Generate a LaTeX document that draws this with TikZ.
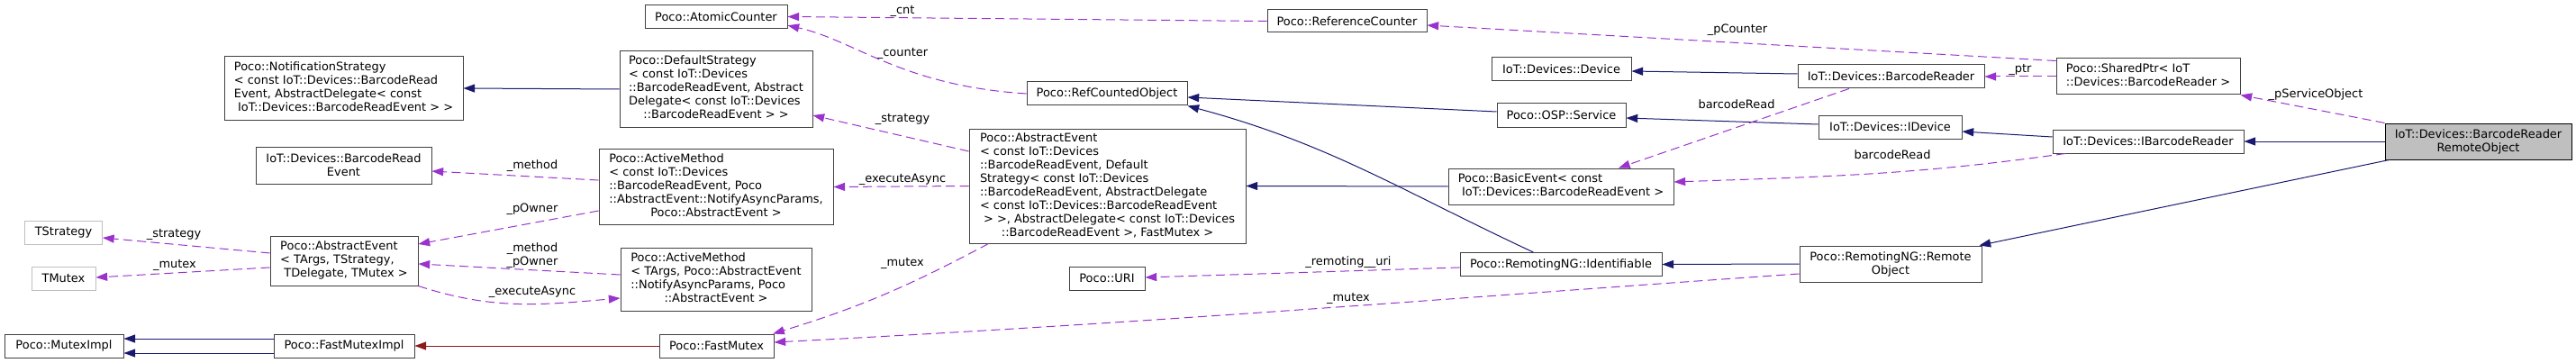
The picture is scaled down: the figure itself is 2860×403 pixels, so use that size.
\documentclass[tikz,border=0pt]{standalone}
\usepackage{fontspec}
\setmainfont{DejaVu Sans}
\usepackage{tikz}
\usetikzlibrary{arrows.meta}
\definecolor{edgeBlue}{RGB}{25,25,112}
\definecolor{edgePurple}{RGB}{154,50,205}
\definecolor{edgeRed}{RGB}{139,26,26}
\definecolor{boxGray}{RGB}{64,64,64}
\definecolor{tplGray}{RGB}{191,191,191}
% left aligned lines, last line centred
\newcommand{\cltext}[2]{\begin{tabular}{@{}l@{}}#1\\\multicolumn{1}{@{}c@{}}{#2}\end{tabular}}

\begin{document}
\begin{tikzpicture}[
  x=0.75pt, y=-0.75pt,
  font=\fontsize{9.7}{11.25}\selectfont,
  cls/.style={draw=boxGray, line width=0.75pt, fill=white, inner sep=1pt, align=center},
  tplcls/.style={cls, draw=tplGray},
  mainbox/.style={cls, draw=black, fill=tplGray},
  sz/.style 2 args={minimum width=#1*0.75pt, minimum height=#2*0.75pt},
  lbl/.style={inner sep=0pt, text height=7pt, text depth=2pt},
  inh/.style={-{Triangle[length=9.5pt,width=6.8pt]}, line width=0.75pt, edgeBlue},
  usedby/.style={inh, edgePurple, dash pattern=on 7.5pt off 4pt},
  inst/.style={inh, edgeRed}
]
\useasboundingbox (0,0) rectangle (2860,403);

% column 0
\node[tplcls, sz={86}{26}] (tstrat) at (70.5,258.5) {TStrategy};
\node[tplcls, sz={71}{26}] (tmutex) at (70.5,309) {TMutex};
\node[cls, sz={132}{26}] (mutexImpl) at (71,384) {Poco::MutexImpl};

% column 1
\node[cls, sz={265}{70}] (notif) at (381.5,98)
  {\cltext{Poco::NotificationStrategy\\< const IoT::Devices::BarcodeRead\\Event, AbstractDelegate< const}{\ IoT::Devices::BarcodeReadEvent > >}};
\node[cls, sz={195}{41}] (brevt) at (381.5,183.5) {IoT::Devices::BarcodeRead\\Event};
\node[cls, sz={164}{55}] (aetpl) at (382,289.5)
  {\cltext{Poco::AbstractEvent\\< TArgs, TStrategy,}{\ TDelegate, TMutex >}};
\node[cls, sz={156}{26}] (fmImpl) at (382,384) {Poco::FastMutexImpl};

% column 2
\node[cls, sz={158}{26}] (atomic) at (795,18.5) {Poco::AtomicCounter};
\node[cls, sz={214}{84}] (defstrat) at (795,99)
  {\cltext{Poco::DefaultStrategy\\< const IoT::Devices\\::BarcodeReadEvent, Abstract\\Delegate< const IoT::Devices}{::BarcodeReadEvent > >}};
\node[cls, sz={260}{84}] (amconst) at (795,207.5)
  {\cltext{Poco::ActiveMethod\\< const IoT::Devices\\::BarcodeReadEvent, Poco\\::AbstractEvent::NotifyAsyncParams,}{Poco::AbstractEvent >}};
\node[cls, sz={212}{70}] (amtpl) at (795,310)
  {\cltext{Poco::ActiveMethod\\< TArgs, Poco::AbstractEvent\\::NotifyAsyncParams, Poco}{::AbstractEvent >}};
\node[cls, sz={127}{26}] (fastmutex) at (795.5,384) {Poco::FastMutex};

% column 3
\node[cls, sz={178}{26}] (rco) at (1229,104) {Poco::RefCountedObject};
\node[cls, sz={307}{127}] (aebig) at (1229.5,206.5)
  {\cltext{Poco::AbstractEvent\\< const IoT::Devices\\::BarcodeReadEvent, Default\\Strategy< const IoT::Devices\\::BarcodeReadEvent, AbstractDelegate\\< const IoT::Devices::BarcodeReadEvent\\\ > >, AbstractDelegate< const IoT::Devices}{::BarcodeReadEvent >, FastMutex >}};
\node[cls, sz={84}{26}] (uri) at (1229,309) {Poco::URI};
\node[cls, sz={177}{25}] (refcnt) at (1495.5,23.5) {Poco::ReferenceCounter};

% column 4
\node[cls, sz={155}{26}] (device) at (1733.5,77) {IoT::Devices::Device};
\node[cls, sz={143}{26}] (ospsvc) at (1733.5,128) {Poco::OSP::Service};
\node[cls, sz={250}{40}] (basicevt) at (1733,207)
  {\cltext{Poco::BasicEvent< const}{\ IoT::Devices::BarcodeReadEvent >}};
\node[cls, sz={224}{26}] (ident) at (1733,293.5) {Poco::RemotingNG::Identifiable};

% column 5
\node[cls, sz={207}{26}] (bcreader) at (2099.5,85) {IoT::Devices::BarcodeReader};
\node[cls, sz={159}{26}] (idevice) at (2098.5,141) {IoT::Devices::IDevice};
\node[cls, sz={202}{40}] (remobj) at (2099,293) {Poco::RemotingNG::Remote\\Object};

% column 6
\node[cls, sz={204}{40}] (sharedptr) at (2385,85)
  {\cltext{Poco::SharedPtr< IoT}{::Devices::BarcodeReader >}};
\node[cls, sz={212}{26}] (ibcr) at (2385,157) {IoT::Devices::IBarcodeReader};

% column 7
\node[mainbox, sz={207}{40}] (main) at (2751.5,157) {IoT::Devices::BarcodeReader\\RemoteObject};

% edge labels
\node[lbl] (lMethod) at (591,184) {\_method};
\node[lbl] (lStratT) at (193,260) {\_strategy};
\node[lbl] (lMutexT) at (194,294) {\_mutex};
\node[lbl] (lOwner) at (591,232) {\_pOwner};
\node[inner sep=0pt, align=center] (lMethOwner) at (591,284) {\_method\\\_pOwner};
\node[lbl] (lExecT) at (591,324) {\_executeAsync};
\node[lbl] (lCnt) at (1002,12) {\_cnt};
\node[lbl] (lCounter) at (1002,59) {\_counter};
\node[lbl] (lStrat) at (1002,132) {\_strategy};
\node[lbl] (lExec) at (1002,199) {\_executeAsync};
\node[lbl] (lMutex) at (1002,292) {\_mutex};
\node[lbl] (lUri) at (1497,291) {\_remoting\_\_uri};
\node[lbl] (lMutexR) at (1497,331) {\_mutex};
\node[lbl] (lPCounter) at (1929,33) {\_pCounter};
\node[lbl] (lReadUp) at (1928,117) {barcodeRead};
\node[lbl] (lPtr) at (2243,77) {\_ptr};
\node[lbl] (lReadLow) at (2101,173) {barcodeRead};
\node[lbl] (lService) at (2571,105) {\_pServiceObject};

% inheritance
\draw[inh] (defstrat.west) -- (notif.east);
\draw[inh] ([yshift=6pt]fmImpl.west) -- ([yshift=6pt]mutexImpl.east);
\draw[inh] ([yshift=-6pt]fmImpl.west) -- ([yshift=-6pt]mutexImpl.east);
\draw[inh] ([yshift=3pt]ospsvc.west) -- ([yshift=-3pt]rco.east);
\draw[inh] ([xshift=-23pt]ident.north) to[out=155,in=-15] (rco.south east);
\draw[inh] (basicevt.west) -- (aebig.east);
\draw[inh] ([yshift=2.25pt]bcreader.west) -- ([yshift=-1.5pt]device.east);
\draw[inh] ([yshift=2.25pt]idevice.west) -- ([yshift=-2.25pt]ospsvc.east);
\draw[inh] (remobj.west) -- (ident.east);
\draw[inh] ([yshift=3.75pt]ibcr.west) -- ([yshift=-3.75pt]idevice.east);
\draw[inh] (main.west) -- (ibcr.east);
\draw[inh] ([xshift=3.75pt]main.south west) -- ([xshift=-2.25pt]remobj.north east);
\draw[inst] (fastmutex.west) -- (fmImpl.east);

% usage
\draw[usedby] ([yshift=5.6pt]amconst.west) -- ([yshift=-4.9pt]brevt.east);
\draw[usedby] ([yshift=6.4pt]aetpl.west) -- ([yshift=-4.1pt]tstrat.east);
\draw[usedby] ([yshift=-5.6pt]aetpl.west) -- ([yshift=0.75pt]tmutex.east);
\draw[usedby] ([yshift=-19.9pt]amconst.west) -- ([yshift=13.9pt]aetpl.east);
\draw[usedby] ([yshift=3.75pt]amtpl.west) -- ([yshift=-2.6pt]aetpl.east);
\draw[usedby] (aetpl.south east) to[out=-18,in=185] ([yshift=-15.75pt]amtpl.west);
\draw[usedby] (refcnt.west) -- (atomic.east);
\draw[usedby] (rco.west) .. controls (1000,95) and (950,45) .. ([yshift=-7.3pt]atomic.east);
\draw[usedby] ([yshift=28.9pt]aebig.west) -- ([yshift=-21.75pt]defstrat.east);
\draw[usedby] (aebig.west) -- (amconst.east);
\draw[usedby] ([xshift=16.5pt]aebig.south west) to[out=208,in=17] ([xshift=-1pt]fastmutex.north east);
\draw[usedby] ([yshift=-8.25pt]remobj.west) to[out=184,in=3] ([yshift=3pt]fastmutex.east);
\draw[usedby] ([yshift=-2.6pt]ident.west) -- ([yshift=0.75pt]uri.east);
\draw[usedby] ([yshift=-2.25pt]sharedptr.north west) -- ([yshift=-3.4pt]refcnt.east);
\draw[usedby] (sharedptr.west) -- (bcreader.east);
\draw[usedby] ([xshift=-35pt]bcreader.south) -- ([xshift=48pt]basicevt.north);
\draw[usedby] ([xshift=-69pt]ibcr.south) to[out=188,in=2] ([yshift=3.75pt]basicevt.east);
\draw[usedby] (main.north west) -- (sharedptr.south east);

\end{tikzpicture}
\end{document}
